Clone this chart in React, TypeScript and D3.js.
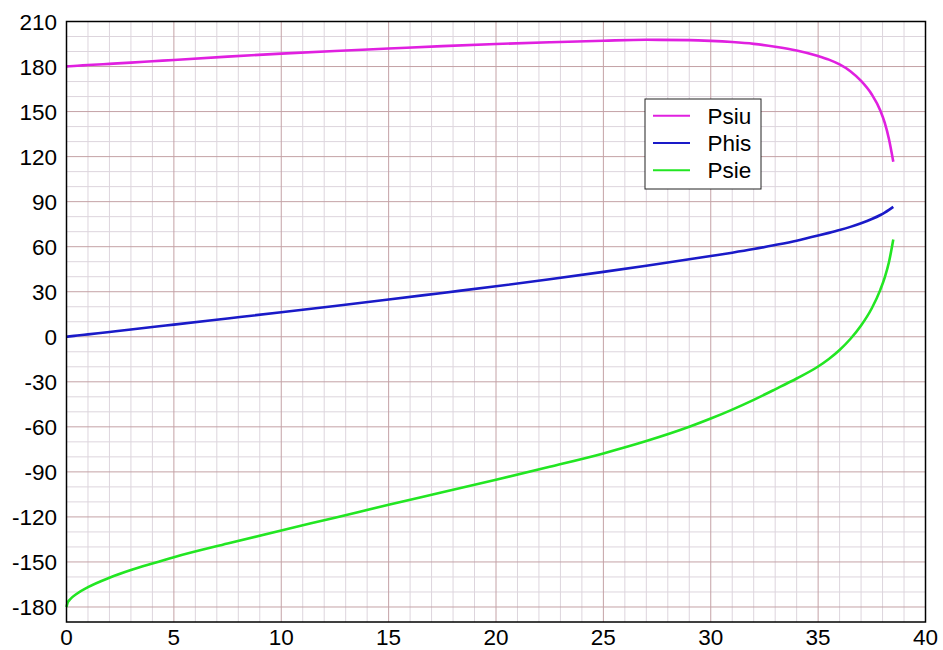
import React from "react";
import * as d3 from "d3";

// Sample positions along the horizontal axis
const xs = [0, 0.05, 0.15, 0.5, 1, 2, 3, 4, 5, 7.5, 10, 12.5, 15, 17.5, 20, 22.5, 25, 27, 29, 30, 31, 32, 33, 34, 35, 35.5, 36, 36.5, 37, 37.5, 37.9, 38.1, 38.3, 38.5];

const psiu = [180, 180.1, 180.2, 180.5, 181, 181.8, 182.6, 183.5, 184.4, 186.6, 188.6, 190.4, 192, 193.6, 195, 196.2, 197.2, 197.8, 197.6, 197.1, 196.3, 195.1, 193.2, 190.7, 187, 184.6, 181.4, 176.9, 170.4, 161.4, 150.6, 142.6, 131.6, 116.6];

const phis = [0, 0.08, 0.25, 0.8, 1.6, 3.2, 4.8, 6.5, 8.1, 12.2, 16.3, 20.5, 24.8, 29.2, 33.6, 38.3, 43.2, 47.3, 51.6, 53.8, 56, 58.4, 61.1, 64, 67.4, 69.2, 71.1, 73.2, 75.6, 78.4, 81.1, 82.7, 84.5, 86.5];

const psie = [-180, -177.3, -175.2, -171, -166.8, -160.5, -155.4, -151, -146.8, -137.7, -129, -120.5, -111.9, -103.6, -95.2, -86.6, -77.7, -69.5, -60, -54.5, -48.5, -42, -35, -27.8, -19.8, -14.8, -8.8, -1.5, 7.5, 19, 31.4, 39.4, 49.8, 64.8];

const seriesNames = ["Psiu", "Phis", "Psie"];
const seriesColors = ["#e020e0", "#1a1ac8", "#22e622"];

const xTicks = [0, 5, 10, 15, 20, 25, 30, 35, 40];
const yTicks = [-180, -150, -120, -90, -60, -30, 0, 30, 60, 90, 120, 150, 180, 210];

const W = 943;
const H = 650;
const left = 66.5;
const right = 925.5;
const top = 21.5;
const bottom = 622;

export default function App() {
  const x = d3.scaleLinear().domain([0, 40]).range([left, right]);
  const y = d3.scaleLinear().domain([-190, 210]).range([bottom, top]);

  const minorX = d3.range(1, 40).filter((v) => v % 5 !== 0);
  const minorY = d3.range(-180, 210, 10).filter((v) => ((v % 30) + 30) % 30 !== 0);
  const majorX = xTicks.filter((v) => v > 0 && v < 40);
  const majorY = yTicks.filter((v) => v < 210);

  const series = [psiu, phis, psie];
  const line = d3
    .line<number>()
    .x((_, i) => x(xs[i]))
    .y((d) => y(d))
    .curve(d3.curveMonotoneX);

  const font = "'Liberation Sans', Arial, Helvetica, sans-serif";
  const fs = 22.5;

  const legX = 645;
  const legY = 99;

  return (
    <svg
      width={W}
      height={H}
      style={{ position: "absolute", left: 0, top: 0, background: "#fff" }}
    >
      <rect x={0} y={0} width={W} height={H} fill="#fff" />
      {/* minor grid */}
      {minorX.map((v) => (
        <line key={"mx" + v} x1={x(v)} x2={x(v)} y1={top} y2={bottom} stroke="#ddd5dd" strokeWidth={1} />
      ))}
      {minorY.map((v) => (
        <line key={"my" + v} x1={left} x2={right} y1={y(v)} y2={y(v)} stroke="#ddd5dd" strokeWidth={1} />
      ))}
      {/* major grid */}
      {majorX.map((v) => (
        <line key={"Mx" + v} x1={x(v)} x2={x(v)} y1={top} y2={bottom} stroke="#c4a2a6" strokeWidth={1} />
      ))}
      {majorY.map((v) => (
        <line key={"My" + v} x1={left} x2={right} y1={y(v)} y2={y(v)} stroke="#c4a2a6" strokeWidth={1} />
      ))}

      {/* curves */}
      {series.map((s, i) => (
        <path
          key={seriesNames[i]}
          d={line(s) || ""}
          fill="none"
          stroke={seriesColors[i]}
          strokeWidth={2.6}
          strokeLinejoin="round"
        />
      ))}

      {/* frame */}
      <rect x={left} y={top} width={right - left} height={bottom - top} fill="none" stroke="#000" strokeWidth={1.5} />

      {/* tick labels */}
      {yTicks.map((v) => (
        <text
          key={"yl" + v}
          x={57}
          y={y(v)}
          dy="0.36em"
          textAnchor="end"
          fontFamily={font}
          fontSize={fs}
          fill="#000"
        >
          {v}
        </text>
      ))}
      {xTicks.map((v) => (
        <text
          key={"xl" + v}
          x={x(v)}
          y={645}
          textAnchor="middle"
          fontFamily={font}
          fontSize={fs}
          fill="#000"
        >
          {v}
        </text>
      ))}

      {/* legend */}
      <rect x={legX} y={legY} width={116} height={90} fill="#fff" stroke="#222" strokeWidth={1} />
      {seriesNames.map((n, i) => (
        <g key={"lg" + n}>
          <line
            x1={653}
            x2={690}
            y1={115.7 + i * 27.3}
            y2={115.7 + i * 27.3}
            stroke={seriesColors[i]}
            strokeWidth={2}
          />
          <text
            x={707.5}
            y={115.7 + i * 27.3}
            dy="0.36em"
            fontFamily={font}
            fontSize={fs}
            fill="#000"
          >
            {n}
          </text>
        </g>
      ))}
    </svg>
  );
}
